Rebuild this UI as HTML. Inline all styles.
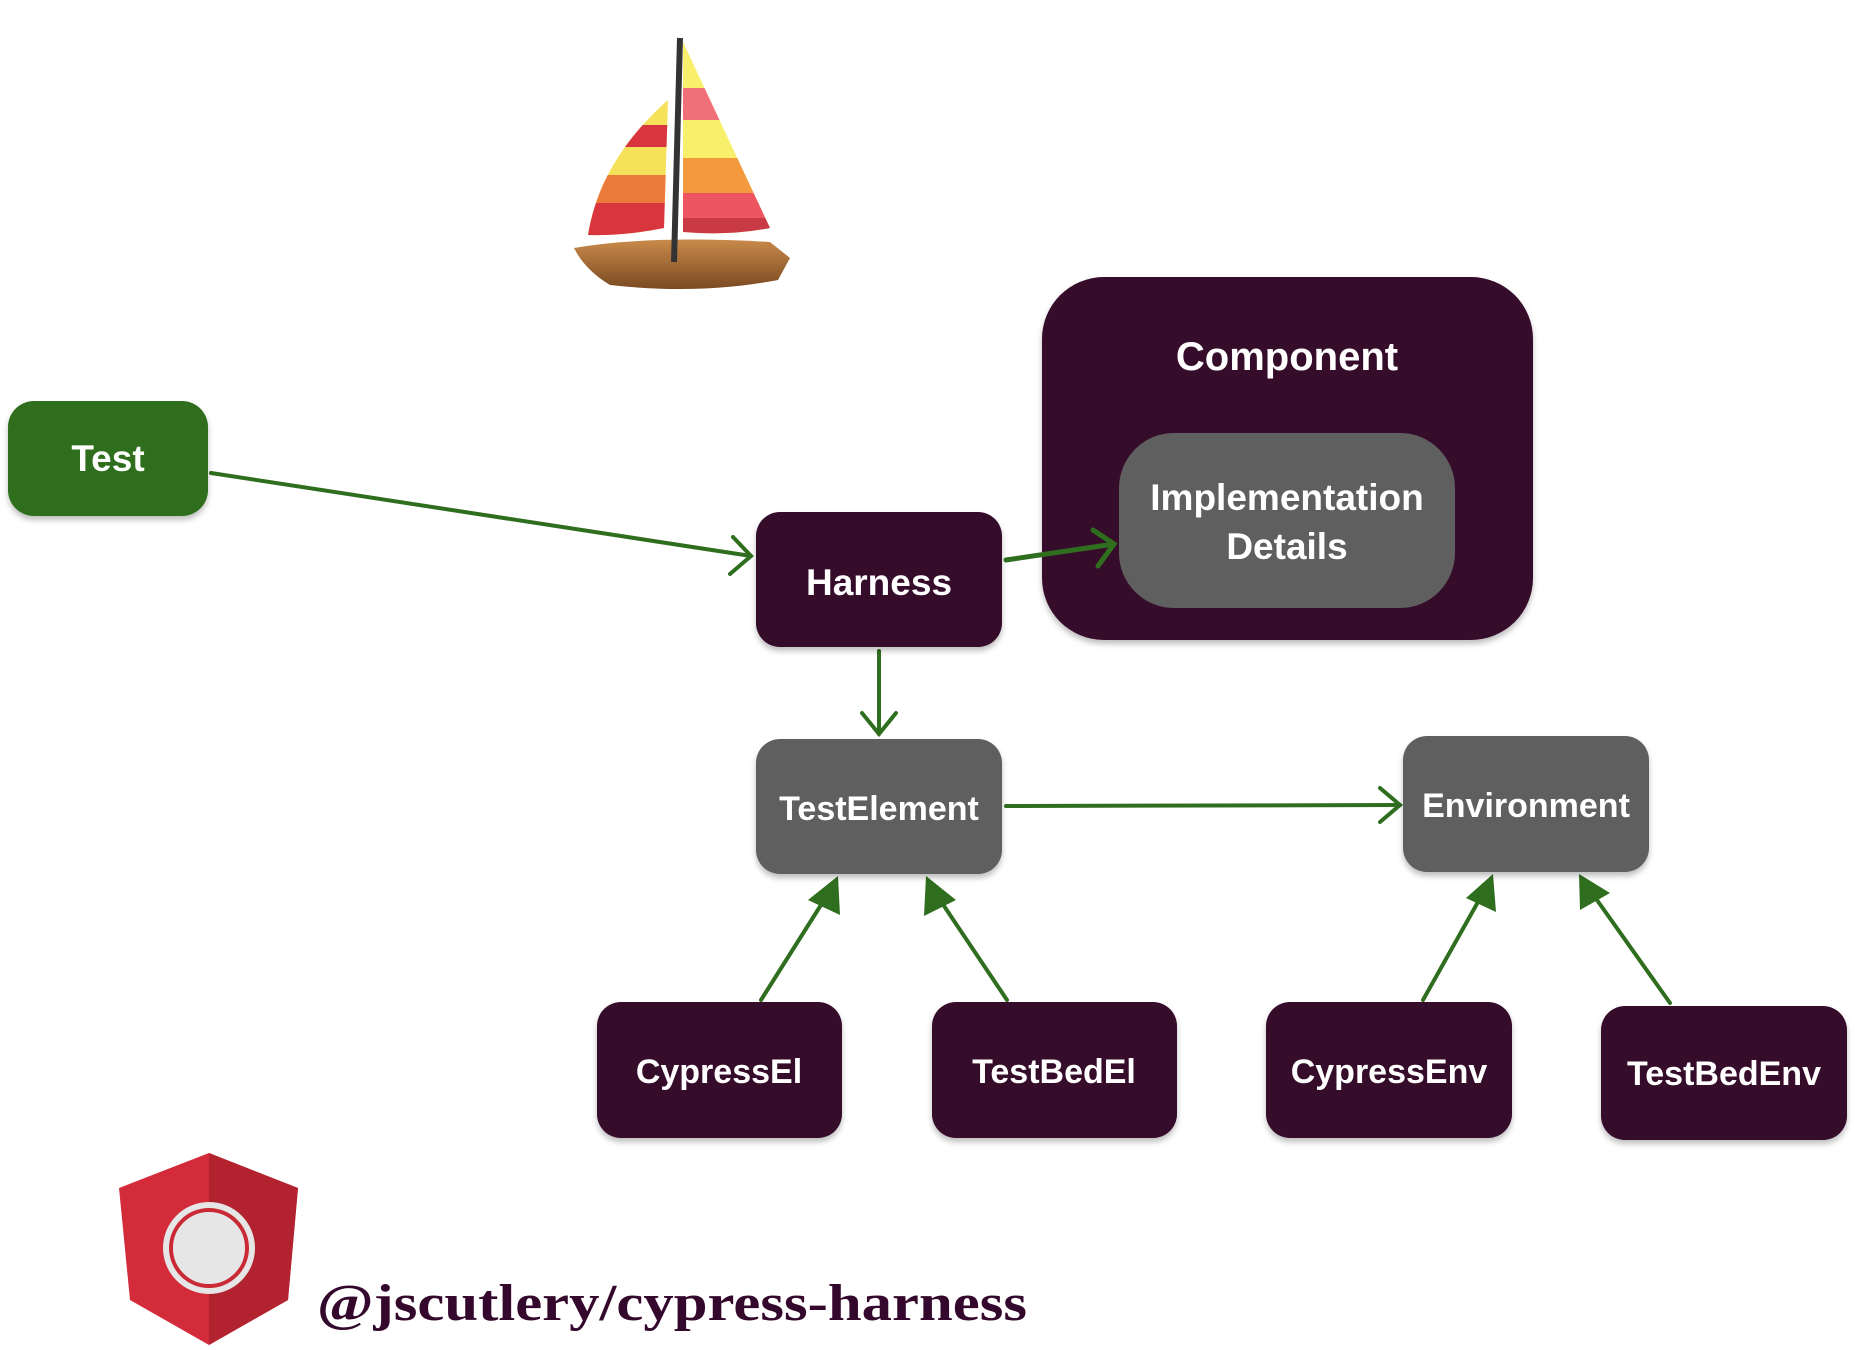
<!DOCTYPE html>
<html><head><meta charset="utf-8"><style>
html,body{margin:0;padding:0;background:#fff;}
svg{display:block;}
text{font-family:"Liberation Sans",sans-serif;font-weight:bold;fill:#fff;text-anchor:middle;}
</style></head><body>
<svg width="1855" height="1350" viewBox="0 0 1855 1350" xmlns="http://www.w3.org/2000/svg">
<defs>
<filter id="sh" x="-10%" y="-10%" width="120%" height="130%"><feDropShadow dx="0" dy="4" stdDeviation="3" flood-color="#000" flood-opacity="0.25"/></filter>
<linearGradient id="hull" x1="0" y1="0" x2="0" y2="1"><stop offset="0" stop-color="#c98a4a"/><stop offset="1" stop-color="#7a4a22"/></linearGradient>
<clipPath id="ls"><path d="M668 100 L664 228 Q625 236 588 235 Q600 160 668 100 Z"/></clipPath>
<clipPath id="rs"><path d="M683 42 L770 228 Q730 236 683 232 Z"/></clipPath>
</defs>

<!-- sailboat -->
<g clip-path="url(#ls)">
<rect x="580" y="95" width="90" height="145" fill="#f6e25a"/>
<rect x="580" y="125" width="90" height="22" fill="#d9353e"/>
<rect x="580" y="175" width="90" height="28" fill="#ec7a3a"/>
<rect x="580" y="203" width="90" height="40" fill="#d9353e"/>
</g>
<g clip-path="url(#rs)">
<rect x="680" y="40" width="95" height="200" fill="#f8f06a"/>
<rect x="680" y="88" width="95" height="32" fill="#f0707a"/>
<rect x="680" y="158" width="95" height="35" fill="#f39a3f"/>
<rect x="680" y="193" width="95" height="25" fill="#ed5560"/>
<rect x="680" y="218" width="95" height="25" fill="#c93a44"/>
</g>
<path d="M574 248 Q650 235 770 242 L790 258 L778 280 Q700 295 610 285 Q585 270 574 248 Z" fill="url(#hull)"/>
<line x1="680" y1="38" x2="674" y2="262" stroke="#333" stroke-width="6"/>

<!-- arrows -->
<g stroke="#2f6e1e" fill="none" stroke-linecap="round" stroke-width="4">
<line x1="211" y1="473" x2="751" y2="556"/>
<polyline points="733,537 751,556 730,574"/>
<line x1="879" y1="651" x2="879" y2="734"/>
<polyline points="862,713 879,734 896,713"/>
<line x1="1006" y1="806" x2="1400" y2="805"/>
<polyline points="1380,788 1400,805 1380,822"/>
<line x1="761" y1="1000" x2="826" y2="897"/>
<line x1="1007" y1="1000" x2="938" y2="897"/>
<line x1="1423" y1="1000" x2="1483" y2="893"/>
<line x1="1670" y1="1003" x2="1592" y2="893"/>
</g>
<g fill="#2f6e1e">
<polygon points="838,876 840,915 808,900"/>
<polygon points="926,876 956,900 924,916"/>
<polygon points="1493,874 1496,912 1466,898"/>
<polygon points="1579,874 1610,893 1580,910"/>
</g>

<!-- nodes -->
<g filter="url(#sh)">
<rect x="8" y="401" width="200" height="115" rx="26" fill="#2f6e1e"/>
<rect x="756" y="512" width="246" height="135" rx="24" fill="#34082c"/>
<rect x="1042" y="277" width="491" height="363" rx="62" fill="#34082c"/>
<rect x="1119" y="433" width="336" height="175" rx="55" fill="#5e5e5e"/>
<rect x="756" y="739" width="246" height="135" rx="24" fill="#5e5e5e"/>
<rect x="1403" y="736" width="246" height="136" rx="24" fill="#5e5e5e"/>
<rect x="597" y="1002" width="245" height="136" rx="24" fill="#34082c"/>
<rect x="932" y="1002" width="245" height="136" rx="24" fill="#34082c"/>
<rect x="1266" y="1002" width="246" height="136" rx="24" fill="#34082c"/>
<rect x="1601" y="1006" width="246" height="134" rx="24" fill="#34082c"/>
</g>

<!-- harness -> impl arrow (on top) -->
<g stroke="#2f6e1e" fill="none" stroke-linecap="round" stroke-width="5">
<line x1="1006" y1="560" x2="1114" y2="544"/>
<polyline points="1093,530 1114,544 1098,566"/>
</g>

<g font-size="37">
<text x="108" y="471">Test</text>
<text x="879" y="595">Harness</text>
<text x="1287" y="370" font-size="40">Component</text>
<text x="1287" y="510">Implementation</text>
<text x="1287" y="559">Details</text>
<text x="879" y="820" font-size="34">TestElement</text>
<text x="1526" y="817" font-size="34">Environment</text>
<text x="719" y="1083" font-size="34">CypressEl</text>
<text x="1054" y="1083" font-size="34">TestBedEl</text>
<text x="1389" y="1083" font-size="34">CypressEnv</text>
<text x="1724" y="1085" font-size="34">TestBedEnv</text>
</g>

<!-- angular logo -->
<polygon points="209,1153 298,1188 288,1300 209,1345 130,1300 119,1188" fill="#d42b3a"/>
<polygon points="209,1153 298,1188 288,1300 209,1345" fill="#b3222f"/>
<circle cx="209" cy="1248" r="46" fill="#e6e6e6"/>
<circle cx="209" cy="1248" r="38" fill="none" stroke="#c92a35" stroke-width="4"/>
<circle cx="209" cy="1248" r="33" fill="#e6e6e6"/>

<text x="317" y="1320" font-size="52" style="text-anchor:start;fill:#34082c;font-family:'Liberation Serif',serif;font-weight:bold" textLength="710" lengthAdjust="spacingAndGlyphs">@jscutlery/cypress-harness</text>
</svg>
</body></html>
